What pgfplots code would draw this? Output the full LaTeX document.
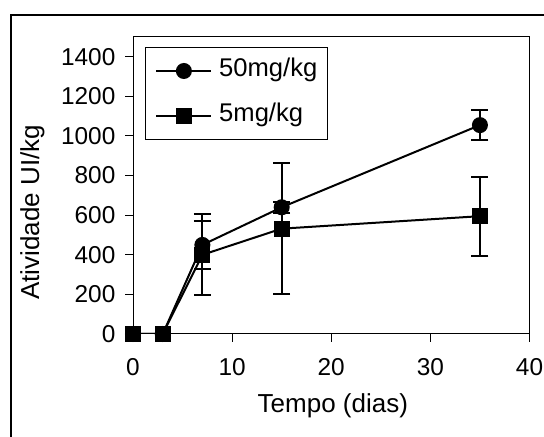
\documentclass[border=0pt]{standalone}
\usepackage{fontspec}
\setmainfont{Liberation Sans}
\usepackage{pgfplots}
\usepackage{pgfplotstable}
\pgfplotsset{compat=1.18}

% dose 50 mg/kg
\pgfplotstableread{
x y e
0 0 0
3 0 0
7 450 120
15 640 28
35 1055 75
}\highdose
% dose 5 mg/kg
\pgfplotstableread{
x y e
0 0 0
3 0 0
7 400 205
15 532 330
35 595 200
}\lowdose

\begin{document}
\begin{tikzpicture}[font=\fontsize{13}{15.6}\selectfont]
\path[use as bounding box] (-66.5pt,-51.5pt) rectangle (205.5pt,167pt);
\draw[line width=0.6pt] (-61pt,-60pt) -- (-61pt,159.5pt) -- (215pt,159.5pt);
\begin{axis}[
    at={(0pt,0pt)}, anchor=south west,
    scale only axis,
    width=198.25pt, height=148.5pt,
    xmin=0, xmax=40, ymin=0, ymax=1500,
    xtick={0,10,...,40},
    ytick={0,200,...,1400},
    tick align=outside,
    xtick pos=bottom, ytick pos=left,
    major tick length=3.8pt,
    axis line style={line width=0.5pt},
    tick style={black, line width=0.5pt},
    /pgf/number format/assume math mode=true,
    /pgf/number format/1000 sep={},
    ticklabel style={font=\fontsize{12.2}{14.6}\selectfont},
    yticklabel style={xshift=-1.5pt},
    xticklabel style={yshift=-5pt},
    xlabel={Tempo (dias)},
    ylabel={Atividade UI/kg},
    x label style={at={(axis description cs:0.504,-0.242)}, anchor=center},
    y label style={at={(axis description cs:-0.254,0.41)}, anchor=center, rotate=0},
    legend style={at={(axis description cs:0.030,0.966)}, anchor=north west,
        draw=black, line width=0.5pt, inner xsep=5pt, inner ysep=5.2pt, row sep=9.5pt,
        nodes={inner xsep=0pt, inner ysep=0pt, text height=9.5pt, text depth=3.5pt},
        font=\fontsize{12.8}{15.4}\selectfont},
    legend cell align=left,
    legend image code/.code={\draw[mark repeat=2,mark phase=2,#1]
        plot coordinates {(0pt,0pt) (13.75pt,0pt) (27.5pt,0pt)};},
]
\addplot[draw=none, forget plot, skip coords between index={0}{2},
    error bars/.cd, y dir=both, y explicit,
    error bar style={black, line width=1pt},
    error mark options={rotate=90, black, mark size=4.25pt, line width=1pt}]
    table[x=x, y=y, y error=e] {\highdose};
\addplot[draw=none, forget plot, skip coords between index={0}{2},
    error bars/.cd, y dir=both, y explicit,
    error bar style={black, line width=1pt},
    error mark options={rotate=90, black, mark size=4.25pt, line width=1pt}]
    table[x=x, y=y, y error=e] {\lowdose};
\addplot[black, line width=1pt, mark=*, mark size=3.5pt] table[x=x, y=y] {\highdose};
\addplot[black, line width=1pt, mark=square*, mark size=3.5pt] table[x=x, y=y] {\lowdose};
\legend{\hspace{3.4pt}50mg/kg\hspace{4pt}, \hspace{3.4pt}5mg/kg\hspace{4pt}}
\end{axis}
\end{tikzpicture}
\end{document}
